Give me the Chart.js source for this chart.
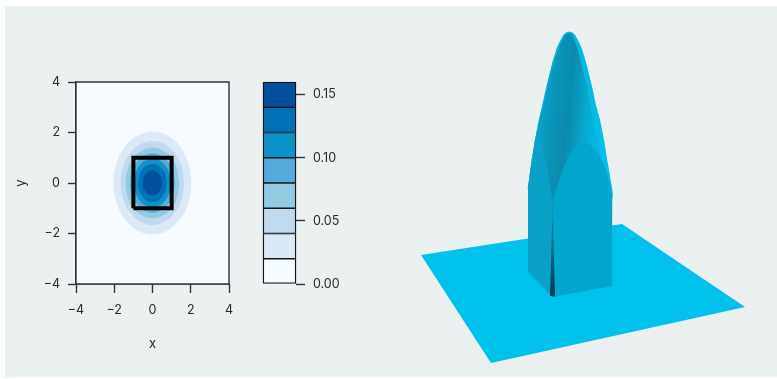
<!DOCTYPE html>
<html>
<head>
<meta charset="utf-8">
<script src="https://cdn.jsdelivr.net/npm/chart.js@4"></script>
<style>
    html, body { margin: 0; padding: 0; background: #fff; overflow: hidden; }
    #panel { position: absolute; left: 5px; top: 6px; width: 772px; height: 371px; background: #ebf0f0; }
    canvas { position: absolute; }
    #contour { left: 0; top: 0; }
    #colorbar { left: 250px; top: 0; }
    #surface { left: 400px; top: 10px; }
</style>
</head>
<body>
<div id="panel"></div>
<canvas id="contour" width="250" height="360"></canvas>
<canvas id="colorbar" width="110" height="300"></canvas>
<canvas id="surface" width="360" height="369"></canvas>
<script>
'use strict';

// left plot
const xTicks = [-4, -2, 0, 2, 4];
const yTicks = [-4, -2, 0, 2, 4];
const frameLine = [[-4, -4], [4, -4], [4, 4], [-4, 4], [-4, -4]];
const boxLine = [[-1, -1], [1, -1], [1, 1], [-1, 1], [-1, -1]];

// one quadrant of every contour, the others are mirrored
const ring02 = [[2.04, 0], [1.88, 0.78], [1.44, 1.44], [0.78, 1.88], [0, 2.04]];
const ring04 = [[1.66, 0], [1.53, 0.64], [1.17, 1.17], [0.64, 1.53], [0, 1.66]];
const ring06 = [[1.40, 0], [1.29, 0.54], [0.99, 0.99], [0.54, 1.29], [0, 1.40]];
const ring08 = [[1.17, 0], [1.08, 0.45], [0.83, 0.83], [0.45, 1.08], [0, 1.17]];
const ring10 = [[0.96, 0], [0.89, 0.37], [0.68, 0.68], [0.37, 0.89], [0, 0.96]];
const ring12 = [[0.75, 0], [0.69, 0.29], [0.53, 0.53], [0.29, 0.69], [0, 0.75]];
const ring14 = [[0.50, 0], [0.46, 0.19], [0.35, 0.35], [0.19, 0.46], [0, 0.50]];
const rings = [ring02, ring04, ring06, ring08, ring10, ring12, ring14];

// colorbar
const levelSizes = [0.02, 0.02, 0.02, 0.02, 0.02, 0.02, 0.02, 0.02];
const levelColors = ['#f6fbff', '#dceaf7', '#c0d9ef', '#92c9e3', '#53acd9', '#0c93c9', '#0270b9', '#024f9e'];
const barTicks = [0, 0.05, 0.10, 0.15];

// right plot, outlines
const baseOutline = [[421, 255], [622, 224], [745, 307], [491, 363], [421, 255]];
const domeOutline = [[569.3, 31.5], [566, 32.5], [563, 35.5], [556.7, 48.3], [551.7, 65], [546.7, 85], [542.3, 105], [538.3, 122],
    [535, 140], [531.7, 160], [529, 180], [528, 190], [552, 215], [612.3, 198], [610.7, 180], [607.3, 160], [604, 140],
    [600, 120], [596, 105], [591.7, 85], [586.7, 65], [581.7, 48], [575.5, 35.5], [572.5, 32.5], [569.3, 31.5]];
const domeInner = [[569.3, 33], [566, 34], [563.5, 38], [557.5, 51], [552.5, 67], [547.5, 87], [543, 107], [539, 125], [536, 140],
    [532.5, 160], [530, 180], [530, 195], [552.5, 210], [608, 205], [606, 180], [602, 160], [598, 140], [594, 125],
    [590.5, 105], [586.5, 85], [582, 66], [578, 50], [573.5, 38], [571.5, 34], [569.3, 33]];
const rightWall = [[552, 297], [552.3, 203], [558.3, 183], [565, 163.3], [573.3, 148.3], [581.7, 142.7], [588.3, 142.7],
    [596.7, 151.7], [603.3, 163.3], [608.3, 176.7], [612.3, 198], [612, 286], [552, 297]];
const leftWall = [[528, 272], [528, 190], [529, 180], [531.7, 160], [535, 140], [537.5, 129], [540, 136], [545, 157],
    [549.3, 180], [552.6, 203], [552.5, 297], [528, 272]];
const cornerEdge = [[552.7, 203], [550, 296], [555, 296.5], [552.7, 203]];

const fontName = 'Inter, "Liberation Sans", sans-serif';
const textColor = '#2b2b2b';
const lineColor = '#333';

let toPoints = (line) => line.map(p => ({ x: p[0], y: p[1] }));

// turns a quadrant into the closed ring
let closeRing = (quad) => {
    const n = quad.length;
    let pts = quad.map(p => [p[0], p[1]]);
    for (let i = n - 2; i >= 0; i--) pts.push([-quad[i][0], quad[i][1]]);
    for (let i = 1; i < n; i++) pts.push([-quad[i][0], -quad[i][1]]);
    for (let i = n - 2; i >= 0; i--) pts.push([quad[i][0], -quad[i][1]]);
    return pts;
};

let minusTick = (v) => String(v).replace('-', '\u2212');

let shape = (line, color, order, extra) => Object.assign({
    data: toPoints(line),
    showLine: true,
    pointRadius: 0,
    borderWidth: 0,
    fill: 'shape',
    backgroundColor: color,
    order: order
}, extra || {});

// contour plot
let contourSets = [];
contourSets.push(shape(frameLine, levelColors[0], 20, { borderWidth: 1.4, borderColor: lineColor, clip: false }));
rings.forEach((quad, i) => {
    contourSets.push(shape(closeRing(quad), levelColors[i + 1], 19 - i, { tension: 0.4 }));
});
contourSets.push({
    data: toPoints(boxLine),
    showLine: true,
    pointRadius: 0,
    fill: false,
    borderWidth: 4,
    borderColor: '#000',
    borderJoinStyle: 'miter',
    order: 1
});

new Chart(document.getElementById('contour'), {
    type: 'scatter',
    data: { datasets: contourSets },
    options: {
        responsive: false,
        animation: false,
        events: [],
        layout: { autoPadding: false, padding: { top: 82, right: 21, left: 0, bottom: 0 } },
        plugins: { legend: { display: false }, tooltip: { enabled: false } },
        scales: {
            x: {
                type: 'linear', min: -4, max: 4,
                afterBuildTicks: (s) => { s.ticks = xTicks.map(v => ({ value: v })); },
                afterFit: (s) => { s.height = 76; },
                grid: { drawOnChartArea: false, tickLength: 9, tickColor: lineColor, tickWidth: 1.4 },
                border: { display: true, color: lineColor, width: 1.4 },
                ticks: { callback: minusTick, padding: 10, color: textColor, maxRotation: 0, autoSkip: false, font: { family: fontName, size: 12.5 } },
                title: { display: true, text: 'x', color: textColor, padding: { top: 0, bottom: 8 }, font: { family: fontName, size: 13 } }
            },
            y: {
                type: 'linear', min: -4, max: 4,
                afterBuildTicks: (s) => { s.ticks = yTicks.map(v => ({ value: v })); },
                afterFit: (s) => { s.width = 76; },
                grid: { drawOnChartArea: false, tickLength: 8, tickColor: lineColor, tickWidth: 1.4 },
                border: { display: true, color: lineColor, width: 1.4 },
                ticks: { callback: minusTick, padding: 8, color: textColor, autoSkip: false, font: { family: fontName, size: 12.5 } },
                title: { display: true, text: 'y', color: textColor, padding: { top: 13, bottom: 0 }, font: { family: fontName, size: 13 } }
            }
        }
    }
});

// colorbar, two touching bars share one divider so the inner edges stay thin
new Chart(document.getElementById('colorbar'), {
    type: 'bar',
    data: {
        labels: [''],
        datasets: levelSizes.map((v, i) => ({
            data: [v],
            backgroundColor: levelColors[i],
            borderColor: '#161616',
            borderWidth: { left: 1.4, right: 1.4, top: i === levelSizes.length - 1 ? 1.4 : 1.1, bottom: i === 0 ? 1.4 : 1.1 },
            borderSkipped: false,
            barPercentage: 1,
            categoryPercentage: 1,
            clip: false
        }))
    },
    options: {
        responsive: false,
        animation: false,
        events: [],
        layout: { autoPadding: false, padding: { top: 82, left: 13, right: 0, bottom: 16 } },
        plugins: { legend: { display: false }, tooltip: { enabled: false } },
        scales: {
            x: { stacked: true, display: false },
            y: {
                stacked: true,
                position: 'right',
                min: 0,
                max: 0.16,
                afterBuildTicks: (s) => { s.ticks = barTicks.map(v => ({ value: v })); },
                afterFit: (s) => { s.width = 64; },
                grid: { drawOnChartArea: false, tickLength: 9, tickColor: lineColor, tickWidth: 1.4 },
                border: { display: false },
                ticks: { callback: (v) => v.toFixed(2), padding: 8, color: textColor, autoSkip: false, font: { family: fontName, size: 12.5 } }
            }
        }
    }
});

// gradient across the dome, the dark band leans with the dome axis
let bandGradient = (from, to, stops) => (ctx) => {
    const chart = ctx.chart;
    const x0 = chart.scales.x.getPixelForValue(from[0]);
    const y0 = chart.scales.y.getPixelForValue(from[1]);
    const x1 = chart.scales.x.getPixelForValue(to[0]);
    const y1 = chart.scales.y.getPixelForValue(to[1]);
    if (![x0, y0, x1, y1].every(Number.isFinite)) return stops[0][1];
    const g = chart.ctx.createLinearGradient(x0, y0, x1, y1);
    stops.forEach(s => g.addColorStop(s[0], s[1]));
    return g;
};

new Chart(document.getElementById('surface'), {
    type: 'scatter',
    data: {
        datasets: [
            shape(baseOutline, '#00c1ec', 6),
            shape(domeOutline, bandGradient([530, 100], [610, 100], [[0, '#08aed6'], [1, '#03bfea']]), 5, { tension: 0.15 }),
            shape(domeInner, bandGradient([533, 112], [610, 120], [[0, '#07a8d0'], [0.3, '#0a92b6'], [0.45, '#0a8aad'], [0.68, '#08a8cf'], [0.8, '#05b4de'], [1, '#04bae5']]), 4, { tension: 0.15 }),
            shape(rightWall, '#02a5cc', 3),
            shape(leftWall, '#0aa1c7', 2),
            shape(cornerEdge, bandGradient([552, 203], [552, 297], [[0, '#0a93b8'], [0.5, '#0a6a88'], [1, '#083b50']]), 1)
        ]
    },
    options: {
        responsive: false,
        animation: false,
        events: [],
        layout: { autoPadding: false, padding: 0 },
        plugins: { legend: { display: false }, tooltip: { enabled: false } },
        scales: {
            x: { type: 'linear', min: 400, max: 760, display: false },
            y: { type: 'linear', min: 10, max: 379, reverse: true, display: false }
        }
    }
});
</script>
</body>
</html>
